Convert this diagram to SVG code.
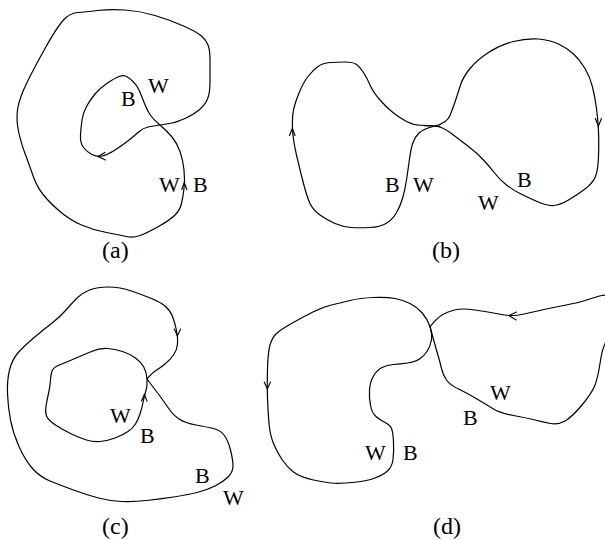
<svg xmlns="http://www.w3.org/2000/svg" width="605" height="540" viewBox="0 0 605 540">
<style>
.c{fill:none;stroke:#000;stroke-width:1.2;stroke-linejoin:round;stroke-linecap:round}
.a{fill:none;stroke:#000;stroke-width:1.1;stroke-linejoin:miter;stroke-linecap:round}
text{font-family:"Liberation Serif","Times New Roman",serif;font-size:22px;fill:#000}
.cap{font-size:24px}
</style>
<rect width="605" height="540" fill="#fff"/>
<g id="panel-a">
<path class="c" d="M 160 125 Q 167 124 172 123 Q 177 122 185 118.5 Q 193 115 199 110 Q 205 105 207.5 99 Q 210 93 210 81.5 Q 210 70 210 60 Q 210 50 208 45 Q 206 40 201.5 36 Q 197 32 183.5 26 Q 170 20 155 15.5 Q 140 11 125 10 Q 110 9 97.5 10.5 Q 85 12 77.5 12.5 Q 70 13 63.5 20 Q 57 27 45 48.5 Q 33 70 26.5 83.5 Q 20 97 18 107 Q 16 117 18 128.5 Q 20 140 25 153.5 Q 30 167 33.5 177 Q 37 187 43.5 195 Q 50 203 60 211.5 Q 70 220 81.5 225 Q 93 230 106.5 232.5 Q 120 235 126.5 236.5 Q 133 238 140 235.5 Q 147 233 158.5 226.5 Q 170 220 175 215 Q 180 210 181.5 203.5 Q 183 197 184 188.5 Q 185 180 184 170 Q 183 160 180 151.5 Q 177 143 172 137 Q 167 131 160 125 Q 153 119 150 114.5 Q 147 110 144.5 103.5 Q 142 97 139.5 91 Q 137 85 132.5 81 Q 128 77 125.5 76 Q 123 75 119 76.5 Q 115 78 107.5 83 Q 100 88 95 94 Q 90 100 86.5 106.5 Q 83 113 82 120 Q 81 127 80.5 135 Q 80 143 83.5 147.5 Q 87 152 92 154.5 Q 97 157 102 156 Q 107 155 113.5 151 Q 120 147 126.5 142 Q 133 137 138 132.5 Q 143 128 148 127 Q 153 126 160 125 Z"/>
<path class="a" d="M 181.8 189.5 L 184.3 182.5 L 186.8 189.5"/>
<path class="a" d="M 105 152.5 L 98 156.5 L 105.5 160"/>
<text x="121" y="106">B</text>
<text x="148" y="93">W</text>
<text x="159" y="192">W</text>
<text x="193" y="192">B</text>
<text class="cap" x="102" y="258">(a)</text>
</g>
<g id="panel-b">
<path class="c" d="M 435 126 Q 442 126.5 451 133.25 Q 460 140 468.5 146.5 Q 477 153 483.5 160 Q 490 167 495 173.5 Q 500 180 506.5 185 Q 513 190 520 193.5 Q 527 197 537 201.5 Q 547 206 553.5 205.5 Q 560 205 568.5 200 Q 577 195 585 189 Q 593 183 595.5 176.5 Q 598 170 598.5 156.5 Q 599 143 598.5 131.5 Q 598 120 596.5 108.5 Q 595 97 592.5 87 Q 590 77 585 68.5 Q 580 60 573.5 54 Q 567 48 558.5 44 Q 550 40 538.5 39 Q 527 38 513.5 41.5 Q 500 45 488.5 52.5 Q 477 60 470 68.5 Q 463 77 460.5 85 Q 458 93 455.5 100.5 Q 453 108 450 115.5 Q 447 123 435 126 Q 423 129 419 133 Q 415 137 413 142.5 Q 411 148 409.5 159 Q 408 170 406.5 180 Q 405 190 402.5 198.5 Q 400 207 396 213.5 Q 392 220 386 223.5 Q 380 227 370 227.5 Q 360 228 351.5 227.5 Q 343 227 335 223.5 Q 327 220 320 215 Q 313 210 310 203.5 Q 307 197 303.5 183.5 Q 300 170 296.5 155 Q 293 140 292.5 128.5 Q 292 117 293.5 110 Q 295 103 299 93 Q 303 83 308 76.5 Q 313 70 318 66.5 Q 323 63 330 62.5 Q 337 62 345 62 Q 353 62 356.5 64.5 Q 360 67 363.5 72.5 Q 367 78 370 85 Q 373 92 380 100 Q 387 108 393.5 113 Q 400 118 406.5 121.5 Q 413 125 420.5 125.25 Q 428 125.5 435 126 Z"/>
<path class="c" d="M 424 125.6 L 440 126.3" stroke-width="2"/>
<path class="a" d="M 289.5 135.5 L 292.3 128.5 L 295 135.5"/>
<path class="a" d="M 595.3 118.5 L 598.4 126 L 601.5 118.5"/>
<text x="385" y="192">B</text>
<text x="413" y="192">W</text>
<text x="478" y="210">W</text>
<text x="517" y="187">B</text>
<text class="cap" x="432" y="258">(b)</text>
</g>
<g id="panel-c">
<path class="c" d="M 147 379 Q 153 387 158 393.5 Q 163 400 168 407.5 Q 173 415 179 419 Q 185 423 196 425 Q 207 427 213.5 428.5 Q 220 430 224 435 Q 228 440 230.5 450 Q 233 460 233 466 Q 233 472 228 477 Q 223 482 215 486 Q 207 490 197 492.5 Q 187 495 173.5 497 Q 160 499 146.5 500.5 Q 133 502 121.5 501.5 Q 110 501 98.5 498 Q 87 495 73.5 490 Q 60 485 50 481 Q 40 477 32.5 468.5 Q 25 460 19 446.5 Q 13 433 10.5 420 Q 8 407 7.5 393.5 Q 7 380 9.5 370 Q 12 360 17.5 353.5 Q 23 347 33 338.5 Q 43 330 51.5 323.5 Q 60 317 66 310 Q 72 303 77 298 Q 82 293 89.5 290 Q 97 287 108.5 287 Q 120 287 131.5 291 Q 143 295 151.5 298.5 Q 160 302 165 306 Q 170 310 172.5 316.5 Q 175 323 176.5 330.5 Q 178 338 177.5 344 Q 177 350 173.5 355 Q 170 360 165 364 Q 160 368 156 370.5 Q 152 373 147 379 Z"/>
<path class="c" d="M 147 379 Q 147.5 386 145.75 391.5 Q 144 397 143 402.5 Q 142 408 140 414 Q 138 420 135.5 424 Q 133 428 128 431.5 Q 123 435 115 438 Q 107 441 100 441.5 Q 93 442 86.5 440 Q 80 438 71.5 434 Q 63 430 55.5 425 Q 48 420 46.5 416 Q 45 412 46 406 Q 47 400 48.5 393.5 Q 50 387 50.5 380 Q 51 373 52.5 370 Q 54 367 60.5 364.5 Q 67 362 75 358.5 Q 83 355 91.5 351.5 Q 100 348 107.5 348.5 Q 115 349 122.5 351.5 Q 130 354 135.5 358 Q 141 362 143.75 367 Q 146.5 372 147 379 Z"/>
<path class="a" d="M 174.3 329 L 177.4 336 L 180.6 329"/>
<path class="a" d="M 141.5 401 L 144.3 394.5 L 147 401"/>
<text x="110" y="423">W</text>
<text x="140" y="443">B</text>
<text x="195" y="483">B</text>
<text x="223" y="505">W</text>
<text class="cap" x="102" y="534">(c)</text>
</g>
<g id="panel-d">
<path class="c" d="M 430 326.75 Q 432.5 334.5 431.25 340.75 Q 430 347 427 351.5 Q 424 356 419.5 359 Q 415 362 407.5 363 Q 400 364 393.5 364.5 Q 387 365 382 367.5 Q 377 370 373.5 376 Q 370 382 369.5 390 Q 369 398 370.5 405.5 Q 372 413 376 416.5 Q 380 420 385 422.5 Q 390 425 391.5 428.5 Q 393 432 393.5 442 Q 394 452 393 459.5 Q 392 467 387.5 471 Q 383 475 375 478 Q 367 481 355 482.25 Q 343 483.5 335 483.25 Q 327 483 313.5 480 Q 300 477 293.5 472 Q 287 467 282 459.5 Q 277 452 273.5 443.5 Q 270 435 269 423.5 Q 268 412 267.5 398.5 Q 267 385 267.5 368.5 Q 268 352 270 345 Q 272 338 276 334 Q 280 330 291.5 323.5 Q 303 317 313 312 Q 323 307 331.5 305 Q 340 303 350 300.5 Q 360 298 373.5 297.5 Q 387 297 395 298.5 Q 403 300 410 303.5 Q 417 307 422.25 313 Q 427.5 319 430 326.75 Z"/>
<path class="c" d="M 430 326.7 Q 437 318 442 315 Q 447 312 453.5 310.25 Q 460 308.5 468.5 309.25 Q 477 310 485 311.5 Q 493 313 503 314.75 Q 513 316.5 523 314.25 Q 533 312 543 309.75 Q 553 307.5 565 305.25 Q 577 303 585 300.5 Q 593 298 598.5 296.25 Q 604 294.5 609 295.25 Q 614 296 615 308 Q 616 320 611.5 330 Q 607 340 604.5 345 Q 602 350 600 363.5 Q 598 377 595 385 Q 592 393 582 405 Q 572 417 565 421 Q 558 425 550.5 423.5 Q 543 422 535 420 Q 527 418 513.5 415.5 Q 500 413 493.5 409 Q 487 405 477 399 Q 467 393 458.5 389 Q 450 385 446.5 380 Q 443 375 441.5 368.5 Q 440 362 437.5 353.5 Q 435 345 433.5 339.5 Q 432 334 430 326.7 Z"/>
<path class="a" d="M 264.2 382 L 267.3 389 L 270.5 382"/>
<path class="a" d="M 516.5 312 L 509 315.6 L 516.3 320"/>
<text x="365" y="460">W</text>
<text x="403" y="460">B</text>
<text x="490" y="400">W</text>
<text x="463" y="425">B</text>
<text class="cap" x="433" y="534">(d)</text>
</g>
</svg>
